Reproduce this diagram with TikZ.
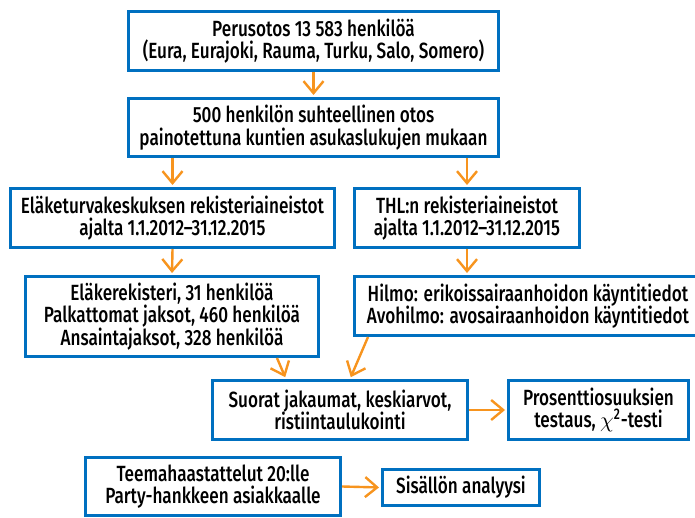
\documentclass[tikz,border=0pt]{standalone}
\usepackage{fontspec}
\setmainfont[FakeStretch=0.78, UprightFont={* Medium}]{Fira Sans}
\usepackage{tikz}
\usetikzlibrary{arrows.meta, calc}
\definecolor{boxColor}{RGB}{0,112,192}
\definecolor{arrowColor}{RGB}{247,148,30}
\tikzstyle{chart} = [x = .5pt, y = -.5pt]
\tikzstyle{boxStyle} = [draw=boxColor, line width=1.5pt, fill=white, align=center, inner sep=0pt, font=\fontsize{11}{11.2}\selectfont]
\tikzstyle{arrowStyle} = [draw=arrowColor, line width=1.2pt, -{Straight Barb[length=6pt, width=10pt]}, shorten >=1pt]
\newcommand{\flowBox}[6]{\node [boxStyle, minimum width=#4*.5pt, minimum height=#5*.5pt] (#1) at (#2, #3) {#6};}
\begin{document}
\begin{tikzpicture}[chart]
  \useasboundingbox (0, 0) rectangle (695, 518);
  \flowBox{perus}{313.5}{41}{370}{59}{Perusotos 13 583 henkilöä\\(Eura, Eurajoki, Rauma, Turku, Salo, Somero)}
  \flowBox{otos}{313.5}{127.5}{370}{58}{500 henkilön suhteellinen otos\\painotettuna kuntien asukaslukujen mukaan}
  \flowBox{etk}{172.5}{218}{324}{59}{Eläketurvakeskuksen rekisteriaineistot\\ajalta 1.1.2012–31.12.2015}
  \flowBox{thl}{467}{218}{225}{59}{THL:n rekisteriaineistot\\ajalta 1.1.2012–31.12.2015}
  \flowBox{rek}{172}{316.5}{293}{80}{Eläkerekisteri, 31 henkilöä\\Palkattomat jaksot, 460 henkilöä\\Ansaintajaksot, 328 henkilöä}
  \flowBox{hilmo}{528}{306}{347}{59}{Hilmo: erikoissairaanhoidon käyntitiedot\\Avohilmo: avosairaanhoidon käyntitiedot}
  \flowBox{suorat}{340}{410}{255}{59}{Suorat jakaumat, keskiarvot,\\ristiintaulukointi}
  \flowBox{testi}{598.5}{410}{180}{59}{Prosenttiosuuksien\\testaus, $\chi$\textsuperscript{2}-testi}
  \flowBox{teema}{213}{486.5}{255}{58}{Teemahaastattelut 20:lle\\Party-hankkeen asiakkaalle}
  \flowBox{sisalto}{461}{487.5}{157}{36}{Sisällön analyysi}

  \draw [arrowStyle] (perus.south) -- (otos.north);
  \draw [arrowStyle] (otos.south -| etk.north) -- (etk.north);
  \draw [arrowStyle] (otos.south -| thl.north) -- (thl.north);
  \draw [arrowStyle] (etk.south) -- (rek.north);
  \draw [arrowStyle] (thl.south) -- (thl.south |- hilmo.north);
  \draw [arrowStyle] ($(rek.south east) + (-43, 0)$) -- ($(suorat.north west) + (75, 0)$);
  \draw [arrowStyle] ($(hilmo.south west) + (15, 0)$) -- ($(suorat.north west) + (139, 0)$);
  \draw [arrowStyle] (suorat.east) -- (testi.west);
  \draw [arrowStyle] (teema.east) -- (sisalto.west);
\end{tikzpicture}
\end{document}
